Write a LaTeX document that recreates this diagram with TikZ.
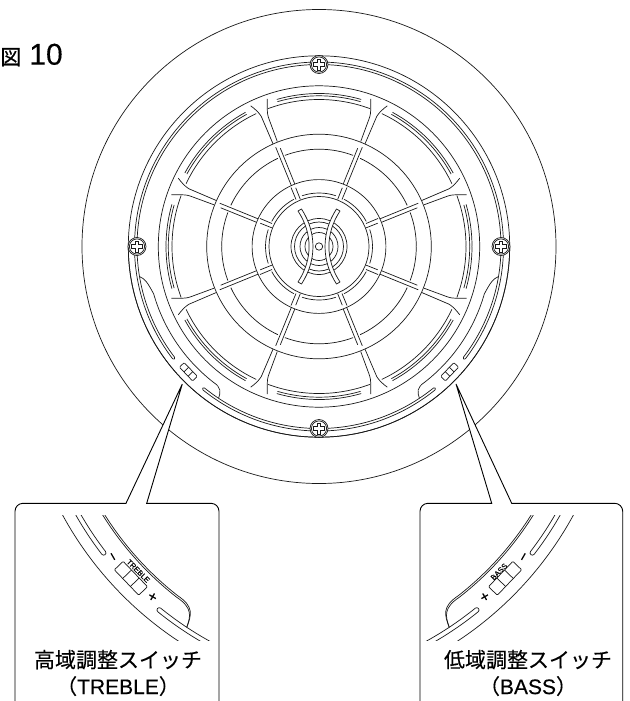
\documentclass[tikz,border=0pt]{standalone}
\usepackage{fontspec}
\setmainfont{Noto Sans CJK JP}[FakeBold=0.25]
\newfontfamily\latinfont{Liberation Sans}[FakeBold=0.25]
\usetikzlibrary{positioning,calc}

\tikzset{
    thinline/.style={line width=0.7pt,draw=black!90},
    framebox/.style={line width=0.9pt,draw=black,fill=white},
    caption/.style={align=center,inner sep=0pt,font=\fontsize{21}{26.5}\selectfont},
    signmark/.style={inner sep=0pt,font=\latinfont\fontsize{15}{15}\selectfont},
    namemark/.style={inner sep=0pt,font=\latinfont\fontsize{7.5}{7.5}\selectfont},
}
\newcommand{\ringarc}[3]{\draw (#2:#1) arc[start angle=#2,end angle=#3,radius=#1];}

% bezel slits, raised shoulder and switch of the lower left part
\newcommand{\switchpart}[1]{
    \draw (180:184.5) arc[start angle=180,end angle=217.5,radius=184.5]
        arc[start angle=217.5,end angle=397.5,radius=1.25]
        arc[start angle=217.5,end angle=180,radius=182];
    \draw (270:184.5) arc[start angle=270,end angle=231,radius=184.5]
        arc[start angle=231,end angle=51,radius=1.25]
        arc[start angle=231,end angle=270,radius=182];
    \ringarc{190.7}{180}{270}
    \foreach \rr in {#1} {
        \draw (189.5:182) .. controls (190.5:177) and (192:\rr+3) .. (196:\rr)
            arc[start angle=196,end angle=232,radius=\rr]
            .. controls (235.5:\rr-0.5) and (236:\rr+4) .. (236.5:182);
    }
    \begin{scope}[rotate=223.8]
        \draw[rounded corners=1pt] (177.7,-9.5) rectangle (184.3,9.5);
        \draw (177.7,-3) -- (184.3,-3);
        \draw (177.7,3) -- (184.3,3);
    \end{scope}
}

\begin{document}
\begin{tikzpicture}[x=1pt,y=1pt,thinline]
    \useasboundingbox (0,-701) rectangle (629,0);
    \node[anchor=west,inner sep=0pt] (figlabel) at (0,-55) {{\fontsize{21}{21}\selectfont 図}\hspace{8pt}{\latinfont\fontsize{30}{30}\selectfont 10}};

    \begin{scope}[shift={(319,-246.5)}]
        \foreach \r in {237,190.7,160.7,112.3,66.9,50,28,24.5,19,14,3.7} {
            \draw (0,0) circle (\r);
        }
        % one eighth of the grille, turned and mirrored
        \foreach \rot in {0,90,180,270} {
            \foreach \flip in {1,-1} {
                \begin{scope}[rotate=\rot,xscale=\flip]
                    \ringarc{97.3}{90}{69.5}
                    \ringarc{97.3}{65}{45}
                    \ringarc{147}{90}{69.7}
                    \ringarc{147}{64.7}{45}
                    \ringarc{153}{90}{74}
                    \ringarc{150.7}{90}{74}
                    \ringarc{153}{61.3}{45}
                    \ringarc{150.7}{61.3}{45}
                    \ringarc{53.5}{90}{71.5}
                    \ringarc{53.5}{62}{45}
                    \draw (24.3,62.7) -- (38.7,98.3);
                    \draw (27.7,61) -- (43.3,99.3);
                    \draw (18.6,47) -- (23.3,58.7);
                    \draw (23,47) -- (28,59);
                    \draw (41.7,105) -- (49.7,126.7) .. controls (51.5,131) and (51.7,134) .. (51.7,138.3) -- (51.7,147.7);
                    \draw (46,102.7) -- (57.7,130) .. controls (60,134) and (64,137.5) .. (68.3,140.7);
                \end{scope}
            }
        }
        % bezel
        \ringarc{184.5}{0}{180}
        \ringarc{182}{0}{180}
        \switchpart{172}
        \begin{scope}[xscale=-1]
            \switchpart{172}
        \end{scope}
        % screws
        \foreach \a in {0,90,180,270} {
            \begin{scope}[shift={(\a:182)}]
                \draw[fill=white] (0,0) circle (9);
                \draw (0,0) circle (7.6);
                \draw (-1.7,-5.5) -- (1.7,-5.5) -- (1.7,-1.7) -- (5.5,-1.7) -- (5.5,1.7) -- (1.7,1.7) -- (1.7,5.5) -- (-1.7,5.5) -- (-1.7,1.7) -- (-5.5,1.7) -- (-5.5,-1.7) -- (-1.7,-1.7) -- cycle;
            \end{scope}
        }
        % crossed slats in the middle
        \foreach \flip in {1,-1} {
            \draw[xscale=\flip,fill=white,line join=round] (17.5,37.5) .. controls (2.2,14) and (2.2,-14) .. (17.5,-37.5)
                -- (21,-35.5) .. controls (6.2,-13) and (6.2,13) .. (21,35.5) -- cycle;
        }
    \end{scope}

    % left callout
    \draw[framebox] (15,-701) -- (15,-511.3) arc[start angle=180,end angle=90,radius=8] -- (126,-503.3) -- (182.3,-384) -- (146.7,-503.3) -- (211,-503.3) arc[start angle=90,end angle=0,radius=8] -- (219,-701);
    \begin{scope}
        \clip (16,-515) rectangle (218,-640);
        \begin{scope}[shift={(372.6,-346.5)},scale=1.85]
            \switchpart{172,171}
        \end{scope}
    \end{scope}
    \node[namemark,rotate=-45] (treblemark) at (138.3,-571) {TREBLE};
    \node[signmark,rotate=-30] (trebleplus) at (152.3,-597.3) {+};
    \node[signmark,rotate=-60] (trebleminus) at (111,-557.7) {−};
    \node[caption] (treblelabel) at (118,-673) {高域調整スイッチ\\（{\latinfont TREBLE}）};

    % right callout
    \draw[framebox] (420,-701) -- (420,-511.3) arc[start angle=180,end angle=90,radius=8] -- (491.7,-503.3) -- (456,-384) -- (511.7,-503.3) -- (614.7,-503.3) arc[start angle=90,end angle=0,radius=8] -- (622.7,-701);
    \begin{scope}
        \clip (421,-515) rectangle (621,-640);
        \begin{scope}[shift={(263.4,-346.5)},xscale=-1.85,yscale=1.85]
            \switchpart{172,171}
        \end{scope}
    \end{scope}
    \node[namemark,rotate=45] (bassmark) at (499,-571.7) {BASS};
    \node[signmark,rotate=30] (bassplus) at (485,-597.3) {+};
    \node[signmark,rotate=60] (bassminus) at (525.3,-557.7) {−};
    \node[caption] (basslabel) at (528,-673) {低域調整スイッチ\\（{\latinfont BASS}）};
\end{tikzpicture}
\end{document}
